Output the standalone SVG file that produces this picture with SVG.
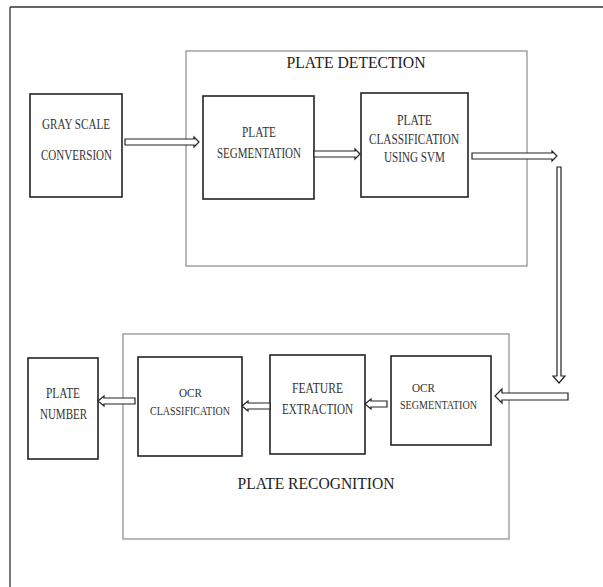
<svg xmlns="http://www.w3.org/2000/svg" width="603" height="587" viewBox="0 0 603 587">
<style>
.frame{fill:none;stroke:#333;stroke-width:1.3}
.cont{fill:none;stroke:#8a8a8a;stroke-width:1.2}
.box{fill:#fff;stroke:#222;stroke-width:1.6}
.arr{fill:#fff;stroke:#222;stroke-width:1.2;stroke-linejoin:miter}
.t{font-family:"Liberation Serif","Times New Roman",serif;font-size:14px;fill:#333;text-anchor:middle}
.s{font-size:13.5px}
.title{font-family:"Liberation Serif","Times New Roman",serif;font-size:16px;fill:#222;text-anchor:middle}
</style>
<rect width="603" height="587" fill="#fff"/>
<g id="frame">
<path class="frame" d="M10,7 H603 M10,7 V587"/>
</g>
<g id="plate-detection">
<rect class="cont" x="186" y="51" width="341" height="215"/>
<text class="title" x="356" y="68" textLength="139" lengthAdjust="spacingAndGlyphs">PLATE DETECTION</text>
</g>
<g id="plate-recognition">
<rect class="cont" x="123" y="334" width="386" height="205"/>
<text class="title" x="316" y="489" textLength="157" lengthAdjust="spacingAndGlyphs">PLATE RECOGNITION</text>
</g>
<g id="gray-scale">
<rect class="box" x="30" y="94" width="92" height="103"/>
<text class="t" x="76" y="129" textLength="68" lengthAdjust="spacingAndGlyphs">GRAY SCALE</text>
<text class="t" x="76.5" y="159.5" textLength="71" lengthAdjust="spacingAndGlyphs">CONVERSION</text>
</g>
<g id="plate-segmentation">
<rect class="box" x="203" y="96" width="111" height="103"/>
<text class="t" x="259" y="137" textLength="34" lengthAdjust="spacingAndGlyphs">PLATE</text>
<text class="t" x="259" y="158" textLength="84" lengthAdjust="spacingAndGlyphs">SEGMENTATION</text>
</g>
<g id="plate-classification">
<rect class="box" x="361" y="93" width="107" height="104"/>
<text class="t" x="414.5" y="125" textLength="35" lengthAdjust="spacingAndGlyphs">PLATE</text>
<text class="t" x="414" y="143.5" textLength="90" lengthAdjust="spacingAndGlyphs">CLASSIFICATION</text>
<text class="t" x="414.5" y="162" textLength="61" lengthAdjust="spacingAndGlyphs">USING SVM</text>
</g>
<g id="ocr-segmentation">
<rect class="box" x="391" y="356" width="100" height="89"/>
<text class="t s" x="423.5" y="392" textLength="23" lengthAdjust="spacingAndGlyphs">OCR</text>
<text class="t s" x="438.5" y="408.5" textLength="77" lengthAdjust="spacingAndGlyphs">SEGMENTATION</text>
</g>
<g id="feature-extraction">
<rect class="box" x="270" y="355" width="95" height="99"/>
<text class="t" x="317.5" y="393" textLength="51" lengthAdjust="spacingAndGlyphs">FEATURE</text>
<text class="t" x="317.5" y="414" textLength="71" lengthAdjust="spacingAndGlyphs">EXTRACTION</text>
</g>
<g id="ocr-classification">
<rect class="box" x="138" y="357" width="104" height="99"/>
<text class="t s" x="190.5" y="397" textLength="23" lengthAdjust="spacingAndGlyphs">OCR</text>
<text class="t s" x="190" y="415" textLength="80" lengthAdjust="spacingAndGlyphs">CLASSIFICATION</text>
</g>
<g id="plate-number">
<rect class="box" x="28" y="358" width="70" height="101"/>
<text class="t" x="63" y="398" textLength="34" lengthAdjust="spacingAndGlyphs">PLATE</text>
<text class="t" x="63.5" y="419" textLength="47" lengthAdjust="spacingAndGlyphs">NUMBER</text>
</g>
<g id="connectors">
<polygon class="arr" points="125,139 194,139 194,137 199,142 194,147 194,145 125,145"/>
<polygon class="arr" points="314,151 355,151 355,149 360,154 355,159 355,157 314,157"/>
<polygon class="arr" points="472,153 552,153 552,151 557,156 552,161 552,159 472,159"/>
<polygon class="arr" points="557,167 561,167 561,376 565,376 559,383 553,376 557,376"/>
<polygon class="arr" points="568,393 502,393 502,389 495,396 502,403 502,400 568,400"/>
<polygon class="arr" points="387,401 371,401 371,399 365,404 371,409 371,407 387,407"/>
<polygon class="arr" points="270,403 248,403 248,401 242,406 248,411 248,409 270,409"/>
<polygon class="arr" points="135,398 104,398 104,396 98,401 104,406 104,404 135,404"/>
</g>
</svg>
